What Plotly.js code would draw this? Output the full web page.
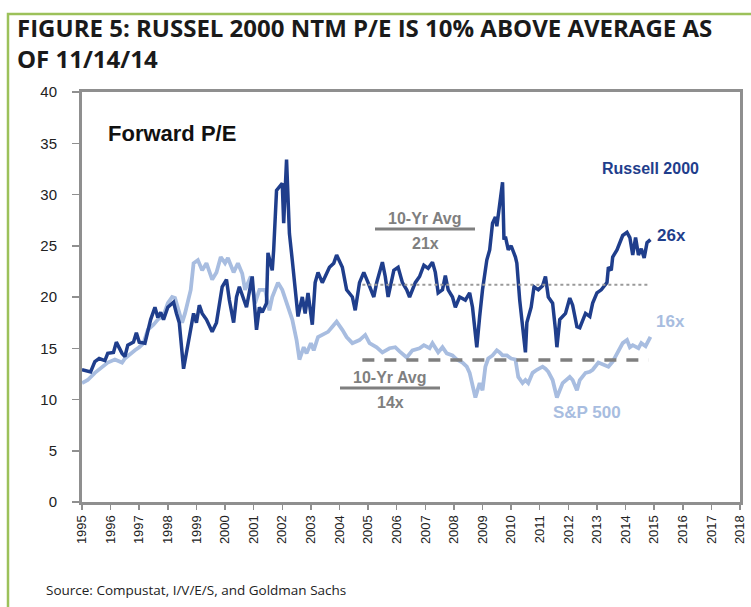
<!DOCTYPE html>
<html>
<head>
<meta charset="utf-8">
<script src="https://cdn.plot.ly/plotly-3.0.1.min.js"></script>
<style>html,body{margin:0;padding:0;background:#fff;}#chart{width:751px;height:607px;}</style>
</head>
<body>
<div id="chart"></div>
<script>
// Russell 2000 forward P/E (decimal year, value)
const russellX = [1995.0,1995.3,1995.45,1995.6,1995.8,1995.9,1996.1,1996.2,1996.4,1996.5,1996.6,1996.8,1996.9,1997.0,1997.2,1997.4,1997.55,1997.65,1997.75,1997.85,1998.0,1998.2,1998.3,1998.4,1998.55,1998.7,1998.9,1999.0,1999.1,1999.2,1999.35,1999.55,1999.7,1999.9,2000.05,2000.15,2000.3,2000.4,2000.5,2000.75,2000.95,2001.1,2001.2,2001.3,2001.45,2001.5,2001.65,2001.7,2001.8,2002.0,2002.05,2002.15,2002.25,2002.35,2002.45,2002.55,2002.7,2002.8,2002.9,2003.05,2003.15,2003.25,2003.4,2003.5,2003.65,2003.8,2003.9,2004.1,2004.25,2004.45,2004.55,2004.7,2004.85,2005.0,2005.2,2005.3,2005.5,2005.6,2005.7,2005.9,2006.05,2006.2,2006.35,2006.45,2006.65,2006.8,2006.95,2007.1,2007.25,2007.35,2007.45,2007.6,2007.7,2007.8,2007.95,2008.05,2008.2,2008.4,2008.55,2008.65,2008.75,2008.8,2008.9,2009.0,2009.15,2009.25,2009.35,2009.45,2009.5,2009.6,2009.7,2009.75,2009.8,2009.9,2010.0,2010.15,2010.2,2010.3,2010.4,2010.5,2010.55,2010.7,2010.8,2010.95,2011.1,2011.2,2011.3,2011.45,2011.55,2011.6,2011.7,2011.9,2012.05,2012.15,2012.3,2012.4,2012.6,2012.75,2012.85,2013.0,2013.15,2013.35,2013.4,2013.5,2013.55,2013.7,2013.9,2014.05,2014.15,2014.25,2014.35,2014.45,2014.55,2014.65,2014.75,2014.87];
const russellY = [12.9,12.7,13.7,14.0,13.8,14.5,14.6,15.6,14.5,14.2,15.3,15.6,16.5,15.6,15.5,17.8,19.0,18.0,18.5,17.8,19.0,19.5,18.4,17.5,13.0,15.5,18.4,17.5,19.2,18.4,17.8,16.6,17.5,21.0,21.7,19.7,17.5,20.0,21.0,19.0,22.0,16.8,19.0,18.5,19.4,24.3,22.6,24.6,30.4,31.1,27.2,33.4,26.2,23.6,20.7,18.1,20.0,18.4,20.4,17.3,21.4,22.4,21.4,22.0,22.9,23.3,24.1,22.9,20.7,20.0,18.7,21.4,22.4,21.4,20.0,21.4,23.4,22.0,20.0,22.6,22.9,21.4,20.7,20.0,21.4,22.0,23.1,22.8,23.4,22.4,20.4,20.7,22.1,20.7,20.0,19.0,20.0,19.7,20.4,19.0,16.8,15.1,18.1,20.7,23.6,24.6,27.2,27.8,26.9,29.2,31.2,25.6,25.9,24.6,25.0,23.9,23.3,19.7,16.8,14.6,17.5,19.0,21.0,20.7,21.1,22.0,20.0,19.4,16.8,15.1,17.8,18.4,19.9,19.2,17.1,17.0,18.4,18.1,19.4,20.4,20.7,21.4,22.9,22.6,23.9,24.6,26.0,26.3,25.8,24.1,25.8,24.1,24.7,23.8,25.3,25.6];

// S&P 500 forward P/E
const spX = [1995.0,1995.2,1995.45,1995.7,1995.9,1996.15,1996.4,1996.5,1996.7,1996.85,1997.0,1997.15,1997.3,1997.5,1997.65,1997.85,1998.0,1998.15,1998.25,1998.35,1998.5,1998.6,1998.8,1998.9,1999.05,1999.2,1999.35,1999.55,1999.7,1999.85,2000.0,2000.1,2000.3,2000.45,2000.6,2000.7,2000.9,2001.05,2001.2,2001.4,2001.55,2001.65,2001.85,2002.0,2002.15,2002.35,2002.5,2002.6,2002.75,2002.85,2003.0,2003.1,2003.25,2003.4,2003.6,2003.75,2003.9,2004.1,2004.25,2004.45,2004.7,2004.9,2005.05,2005.3,2005.5,2005.75,2005.95,2006.1,2006.35,2006.55,2006.8,2006.95,2007.15,2007.25,2007.45,2007.6,2007.75,2007.95,2008.1,2008.3,2008.45,2008.55,2008.65,2008.75,2008.9,2009.0,2009.1,2009.2,2009.35,2009.5,2009.6,2009.7,2009.85,2010.0,2010.15,2010.25,2010.4,2010.5,2010.6,2010.75,2010.9,2011.1,2011.2,2011.3,2011.45,2011.55,2011.6,2011.8,2011.95,2012.05,2012.15,2012.3,2012.4,2012.6,2012.75,2012.85,2013.05,2013.2,2013.4,2013.55,2013.75,2013.9,2014.05,2014.15,2014.25,2014.45,2014.55,2014.7,2014.87];
const spY = [11.6,11.9,12.6,13.1,13.6,13.9,13.6,14.0,14.5,14.8,15.1,15.5,16.8,17.3,17.8,18.2,19.4,20.0,19.9,19.0,17.5,18.4,20.7,23.3,23.6,22.6,23.3,21.7,22.4,23.9,23.3,23.8,22.4,23.3,22.3,20.7,22.0,19.4,20.7,20.7,18.7,20.0,21.4,20.7,19.4,17.8,15.8,13.9,15.1,14.5,15.5,14.8,16.1,16.3,16.6,17.1,17.6,16.8,16.1,15.5,15.8,16.3,15.5,15.1,14.6,15.0,15.1,14.7,14.1,14.8,15.0,15.3,15.0,15.5,14.6,15.1,14.5,14.3,13.9,13.6,13.2,12.6,11.2,10.2,11.6,10.9,13.2,14.0,14.3,14.8,14.6,14.3,14.3,14.0,13.9,12.2,11.6,11.9,11.6,12.6,12.9,13.2,13.0,12.7,11.9,10.9,10.2,11.6,12.0,12.2,11.9,10.9,11.9,12.6,12.7,12.9,13.6,13.4,13.2,13.7,14.8,15.5,15.8,15.1,15.3,15.0,15.5,15.2,16.1];

// 10-year averages
const avgX = [2004.8, 2014.8];
const russellAvg = [21.2, 21.2];
const spAvg = [13.85, 13.85];

// axis ticks
const yearTicks = [1995,1996,1997,1998,1999,2000,2001,2002,2003,2004,2005,2006,2007,2008,2009,2010,2011,2012,2013,2014,2015,2016,2017,2018];
const yearLabels = yearTicks.map(String);

const DARK = '#1f3e8c';
const LIGHT = '#a8bde0';
const GRAY = '#7f7f7f';

const traces = [
  {x: spX, y: spY, type: 'scatter', mode: 'lines', line: {color: LIGHT, width: 3.8}, hoverinfo: 'skip'},
  {x: russellX, y: russellY, type: 'scatter', mode: 'lines', line: {color: DARK, width: 3.5}, hoverinfo: 'skip'},
  {x: avgX, y: russellAvg, type: 'scatter', mode: 'lines', line: {color: '#9a9a9a', width: 2, dash: 'dot'}, hoverinfo: 'skip'},
  {x: avgX, y: spAvg, type: 'scatter', mode: 'lines', line: {color: GRAY, width: 3.5, dash: '12px,10px'}, hoverinfo: 'skip'}
];

const FONT = 'Liberation Sans, Arial, sans-serif';
const TFONT = 'Open Sans, sans-serif';
function px(xp) { return (xp - 82) / 658; }
function py(yp) { return (502 - yp) / 410; }
function ann(text, x, y, size, color, xanchor, family) {
  return {text: text, xref: 'paper', yref: 'paper', x: px(x), y: py(y), xanchor: xanchor, yanchor: 'middle',
    showarrow: false, font: {family: family || FONT, size: size, color: color}};
}

const layout = {
  width: 751, height: 607,
  margin: {l: 82, r: 11, t: 92, b: 105},
  paper_bgcolor: '#ffffff', plot_bgcolor: '#ffffff',
  showlegend: false,
  title: {
    text: 'FIGURE 5: RUSSEL 2000 NTM P/E IS 10% ABOVE AVERAGE AS<br>OF 11/14/14',
    xref: 'container', yref: 'container', x: 17/751, xanchor: 'left', y: 1 - 37/607, yanchor: 'top',
    font: {family: TFONT, size: 24, weight: 700, color: '#1a1a1a'}
  },
  xaxis: {
    range: [1995, 2018], tickmode: 'array', tickvals: yearTicks, ticktext: yearLabels, tickangle: -90,
    showgrid: false, zeroline: false, showline: true, mirror: true, linecolor: '#8f8f8f', linewidth: 3,
    ticks: 'outside', ticklen: 5, tickcolor: '#8f8f8f', tickwidth: 1.5,
    tickfont: {family: FONT, size: 13, color: '#222'}
  },
  yaxis: {
    range: [0, 40], dtick: 5, tick0: 0,
    showgrid: false, zeroline: false, showline: true, mirror: true, linecolor: '#8f8f8f', linewidth: 3,
    ticks: 'outside', ticklen: 7, tickcolor: '#8f8f8f', tickwidth: 1.5, ticklabelstandoff: 12,
    tickfont: {family: FONT, size: 15, color: '#222'}
  },
  shapes: [
    {type: 'rect', xref: 'paper', yref: 'paper', x0: px(8), x1: px(760), y0: py(620), y1: py(14),
      line: {color: '#9cc15a', width: 2.5}, fillcolor: 'rgba(0,0,0,0)', layer: 'below'},
    {type: 'line', xref: 'paper', yref: 'paper', x0: px(375), x1: px(475), y0: py(229), y1: py(229), line: {color: GRAY, width: 3}},
    {type: 'line', xref: 'paper', yref: 'paper', x0: px(340), x1: px(440), y0: py(388), y1: py(388), line: {color: GRAY, width: 3}}
  ],
  annotations: [
    ann('<b>Forward P/E</b>', 106, 133, 22, '#111', 'left'),
    ann('<b>Russell 2000</b>', 650, 168, 16, DARK, 'center'),
    ann('<b>26x</b>', 655, 235, 17, DARK, 'left'),
    ann('<b>16x</b>', 654, 321, 17, LIGHT, 'left'),
    ann('<b>S&P 500</b>', 587, 412, 17, LIGHT, 'center'),
    ann('<b>10-Yr Avg</b>', 425, 218, 16, GRAY, 'center'),
    ann('<b>21x</b>', 425, 243, 16, GRAY, 'center'),
    ann('<b>10-Yr Avg</b>', 390, 377, 16, GRAY, 'center'),
    ann('<b>14x</b>', 390, 402, 16, GRAY, 'center'),
    ann('Source: Compustat, I/V/E/S, and Goldman Sachs', 44, 590, 13.5, '#222', 'left', TFONT)
  ]
};

Plotly.newPlot('chart', traces, layout, {displayModeBar: false, staticPlot: true});
</script>
</body>
</html>
